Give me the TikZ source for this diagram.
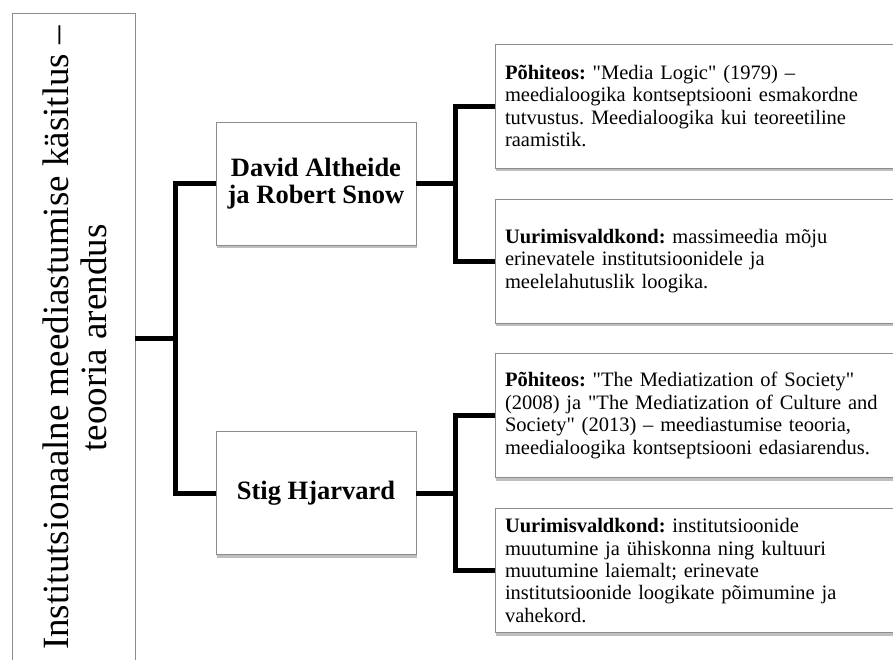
\documentclass[tikz,border=0pt]{standalone}
\usepackage{fontspec}
\setmainfont{Liberation Serif}[Ligatures=TeXOff]
\usetikzlibrary{shadows}
\definecolor{boxline}{HTML}{8C8C8C}
\begin{document}
\frenchspacing
\begin{tikzpicture}[x=1pt,y=-1pt,
  box/.style={draw=boxline,line width=0.9pt,fill=white,rectangle,
    drop shadow={shadow xshift=1pt,shadow yshift=-3pt,fill=black,opacity=0.25}},
  midbox/.style={box,minimum width=200pt,minimum height=123pt,align=center,
    font=\fontsize{26.5}{27.5}\selectfont\bfseries},
  infobox/.style={box,text width=390pt,inner xsep=10pt,minimum height=124pt,align=left,
    font=\fontsize{20.5}{22.4}\selectfont\frenchspacing},
  conn/.style={line width=5pt,line join=miter,line cap=butt}]
\useasboundingbox (0,0) rectangle (893,659);
\fill[white] (0,0) rectangle (893,659);
% root box
\node[draw=boxline,line width=0.9pt,fill=white,minimum width=123pt,minimum height=650pt,inner sep=0pt]
  (root) at (73.5,338) {};
\node[rotate=90,align=center,font=\fontsize{37}{38}\selectfont] (roottext) at (75,338)
  {Institutsionaalne meediastumise käsitlus –\\teooria arendus};
% middle boxes
\node[midbox] (b1) at (316,183.5) {David Altheide\\ja Robert Snow};
\node[midbox] (b2) at (316,493) {Stig Hjarvard};
% info boxes
\node[infobox] (r1) at (700,106) {\textbf{Põhiteos:} "Media Logic" (1979) –\\meedialoogika kontseptsiooni esmakordne\\tutvustus. Meedialoogika kui teoreetiline\\raamistik.};
\node[infobox] (r2) at (700,261) {\textbf{Uurimisvaldkond:} massimeedia mõju\\erinevatele institutsioonidele ja\\meelelahutuslik loogika.};
\node[infobox] (r3) at (700,415.5) {\textbf{Põhiteos:} "The Mediatization of Society"\\(2008) ja "The Mediatization of Culture and\\Society" (2013) – meediastumise teooria,\\meedialoogika kontseptsiooni edasiarendus.};
\node[infobox] (r4) at (700,570.5) {\textbf{Uurimisvaldkond:} institutsioonide\\muutumine ja ühiskonna ning kultuuri\\muutumine laiemalt; erinevate\\institutsioonide loogikate põimumine ja\\vahekord.};
% junctions
\coordinate (j0) at (175,338);
\coordinate (j1) at (455,183.5);
\coordinate (j2) at (455,493);
% connectors
\draw[conn] (root.east |- j0) -- (j0);
\draw[conn] (b1.west) -| (j0) |- (b2.west);
\draw[conn] (b1.east) -- (j1);
\draw[conn] (r1.west) -| (j1) |- (r2.west);
\draw[conn] (b2.east) -- (j2);
\draw[conn] (r3.west) -| (j2) |- (r4.west);
\end{tikzpicture}
\end{document}
